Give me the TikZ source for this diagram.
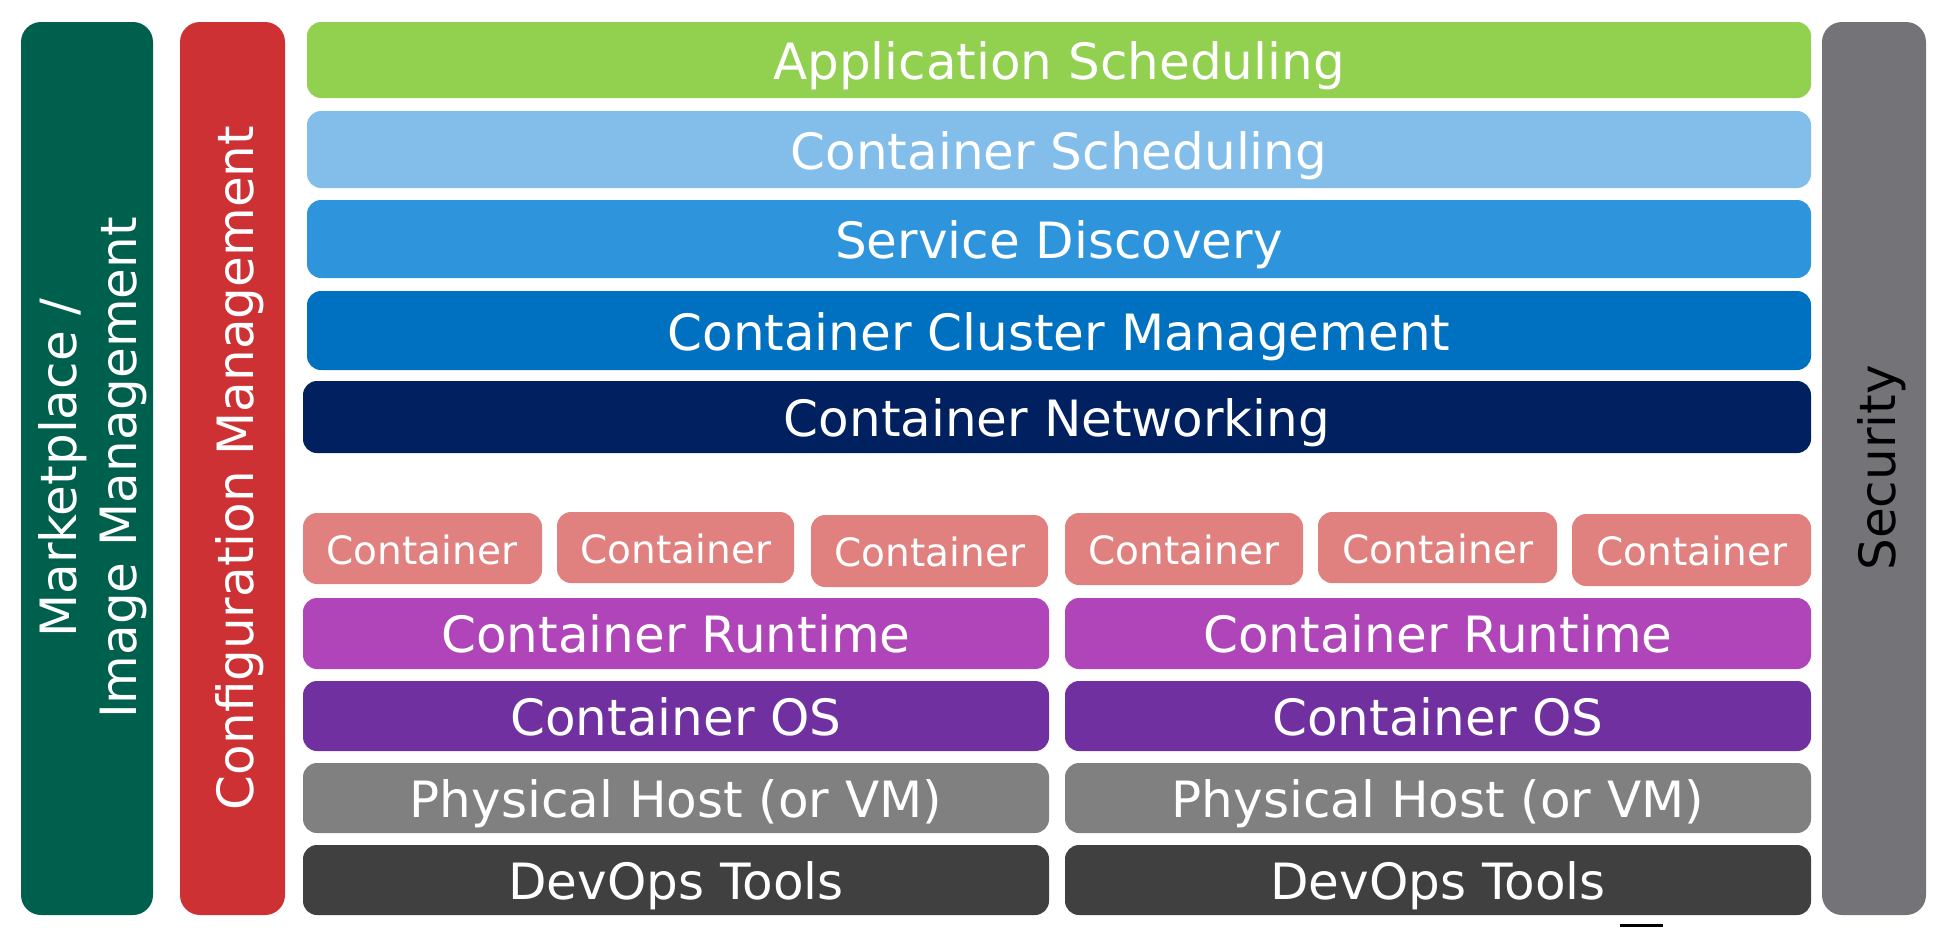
\documentclass[tikz,border=0pt]{standalone}
\usepackage{fontspec}
\setmainfont{DejaVu Sans}
\definecolor{cMarket}{HTML}{00604E}
\definecolor{cConfig}{HTML}{CE3133}
\definecolor{cApp}{HTML}{92D050}
\definecolor{cCSched}{HTML}{83BEEA}
\definecolor{cSD}{HTML}{2E95DD}
\definecolor{cCluster}{HTML}{0070C0}
\definecolor{cNet}{HTML}{002060}
\definecolor{cCont}{HTML}{E0817F}
\definecolor{cRun}{HTML}{AF45B8}
\definecolor{cOS}{HTML}{7030A0}
\definecolor{cHost}{HTML}{808080}
\definecolor{cDev}{HTML}{404040}
\definecolor{cSec}{HTML}{747378}
\begin{document}
\begin{tikzpicture}[x=1pt,y=-1pt,
  layer/.style={rounded corners=14pt, inner sep=0pt, text=white,
    font=\fontsize{50}{60}\selectfont, text height=42pt, text depth=4pt},
  side/.style={rounded corners=20pt, inner sep=0pt, text=white,
    font=\fontsize{50}{60}\selectfont},
  cont/.style={layer, fill=cCont, font=\fontsize{39}{47}\selectfont, text height=33pt, text depth=3pt}
]
\useasboundingbox (0,0) rectangle (1952,927);
% side columns
\path[side, fill=cMarket] (21,22) rectangle (153,915);
\node[side, rotate=90, align=center] (market) at (93,468) {Marketplace /\\Image Management};
\path[side, fill=cConfig] (180,22) rectangle (285,915);
\node[side, rotate=90] (config) at (240,468) {Configuration Management};
\path[side, fill=cSec] (1822,22) rectangle (1926,915);
\node[side, rotate=90, text=black] (sec) at (1882,468) {Security};
% top layers
\path[layer, fill=cApp] (307,22) rectangle (1811,98);
\node[layer] (app) at (1059,60) {Application Scheduling};
\path[layer, fill=cCSched] (307,111) rectangle (1811,188);
\node[layer] (csched) at (1059,150) {Container Scheduling};
\path[layer, fill=cSD] (307,200) rectangle (1811,278);
\node[layer] (sd) at (1059,239) {Service Discovery};
\path[layer, fill=cCluster] (307,291) rectangle (1811,370);
\node[layer] (cluster) at (1059,331) {Container Cluster Management};
\path[layer, fill=cNet] (303,381) rectangle (1811,453);
\node[layer] (net) at (1057,417) {Container Networking};
% containers
\path[cont] (303,513) rectangle (542,584);
\node[cont, fill=none] (c1) at (422,549) {Container};
\path[cont] (557,512) rectangle (794,583);
\node[cont, fill=none] (c2) at (676,548) {Container};
\path[cont] (811,515) rectangle (1048,587);
\node[cont, fill=none] (c3) at (930,551) {Container};
\path[cont] (1065,513) rectangle (1303,585);
\node[cont, fill=none] (c4) at (1184,549) {Container};
\path[cont] (1318,512) rectangle (1557,583);
\node[cont, fill=none] (c5) at (1438,548) {Container};
\path[cont] (1572,514) rectangle (1811,586);
\node[cont, fill=none] (c6) at (1692,550) {Container};
% lower stacks
\foreach \xa/\xb/\s in {303/1049/L,1065/1811/R}{
  \path[layer, fill=cRun] (\xa,598) rectangle (\xb,669);
  \node[layer] (run\s) at ({(\xa+\xb)/2},633.5) {Container Runtime};
  \path[layer, fill=cOS] (\xa,681) rectangle (\xb,751);
  \node[layer] (os\s) at ({(\xa+\xb)/2},716) {Container OS};
  \path[layer, fill=cHost] (\xa,763) rectangle (\xb,833);
  \node[layer] (host\s) at ({(\xa+\xb)/2},798) {Physical Host (or VM)};
  \path[layer, fill=cDev] (\xa,845) rectangle (\xb,915);
  \node[layer] (dev\s) at ({(\xa+\xb)/2},880) {DevOps Tools};
}
\fill[black] (1620,924) rectangle (1663,927);
\end{tikzpicture}
\end{document}
